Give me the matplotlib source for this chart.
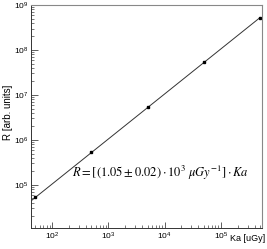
import matplotlib
matplotlib.use("Agg")
import matplotlib.pyplot as plt
import numpy as np
from matplotlib.ticker import LogLocator, NullFormatter

plt.rcParams['font.family'] = ['Liberation Sans', 'DejaVu Sans']
plt.rcParams['mathtext.fontset'] = 'stix'

# Data
ka = [50, 500, 5000, 50000, 500000]
r_vals = [5.3e4, 5.4e5, 5.3e6, 5.4e7, 5.2e8]
slope = 1.05e3
fit_ka = [42, 500000]

x_lim = (42, 5.4e5)
y_lim = (1.1e4, 1e9)

fig = plt.figure(figsize=(2.67, 2.49), dpi=100)
ax = fig.add_axes([0.116, 0.084, 0.865, 0.896])

ax.plot(fit_ka, [slope * k for k in fit_ka], color='#333333', lw=0.7)
ax.plot(ka, r_vals, 's', color='black', ms=1.9)

ax.set_xscale('log')
ax.set_yscale('log')
ax.set_xlim(*x_lim)
ax.set_ylim(*y_lim)

for axis in (ax.xaxis, ax.yaxis):
    axis.set_major_locator(LogLocator(base=10, numticks=12))
    axis.set_minor_locator(LogLocator(base=10, subs=np.arange(2, 10), numticks=12))
    axis.set_minor_formatter(NullFormatter())

ax.tick_params(which='both', direction='in', labelsize=6, color='#444444', pad=2)
ax.tick_params(axis='y', which='major', length=5, width=0.6)
ax.tick_params(axis='y', which='minor', length=2.5, width=0.5)
ax.tick_params(axis='x', which='major', length=4, width=0.6)
ax.tick_params(axis='x', which='minor', length=2, width=0.5)

for side in ['left', 'bottom']:
    ax.spines[side].set_color('#333333')
    ax.spines[side].set_linewidth(0.7)
for side in ['top', 'right']:
    ax.spines[side].set_color('#888888')
    ax.spines[side].set_linewidth(0.8)

fig.text(0.03, 0.55, 'R [arb. units]', rotation=90, fontsize=7, ha='center', va='center')
fig.text(0.993, 0.025, 'Ka [uGy]', fontsize=6.5, ha='right', va='bottom')

ax.text(0.56, 0.247, r'$R = [(1.05 \pm 0.02) \cdot 10^{3}\ \mu Gy^{-1}] \cdot Ka$',
        transform=ax.transAxes, fontsize=9, ha='center', va='center')

fig.savefig('out.png', dpi=100)
